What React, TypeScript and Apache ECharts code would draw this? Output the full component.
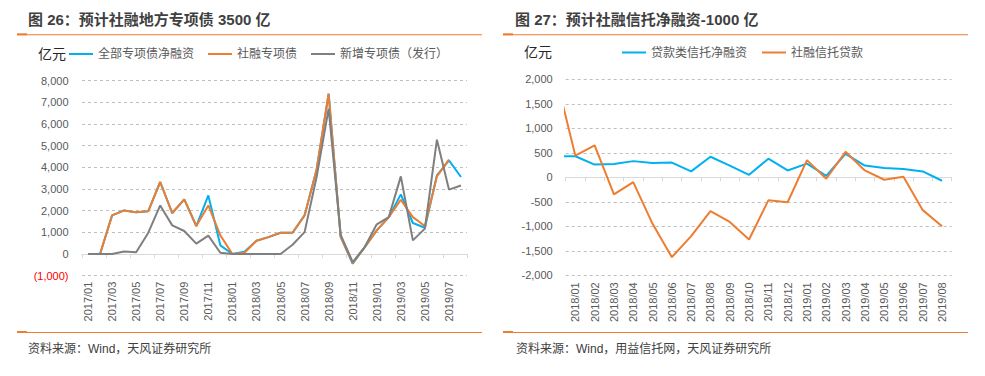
import React, { useEffect, useRef } from "react";
import * as echarts from "echarts";

// ---------- Left chart: 图 26 ----------
const leftMonths = [
  "2017/01", "2017/02", "2017/03", "2017/04", "2017/05", "2017/06", "2017/07", "2017/08",
  "2017/09", "2017/10", "2017/11", "2017/12", "2018/01", "2018/02", "2018/03", "2018/04",
  "2018/05", "2018/06", "2018/07", "2018/08", "2018/09", "2018/10", "2018/11", "2018/12",
  "2019/01", "2019/02", "2019/03", "2019/04", "2019/05", "2019/06", "2019/07", "2019/08",
];
const leftNetFinancing = [
  0, 0, 1780, 2010, 1920, 1970, 3320, 1890, 2520, 1290, 2700, 400, 0, 100, 610, 780,
  980, 980, 1780, 3900, 7390, 790, -450, 320, 1090, 1700, 2750, 1430, 1210, 3630, 4320, 3550,
];
const leftTsfSpecial = [
  0, 0, 1780, 2010, 1920, 1970, 3320, 1890, 2520, 1290, 2240, 860, 0, 60, 610, 780,
  980, 980, 1780, 3900, 7390, 790, -420, 320, 1090, 1700, 2500, 1700, 1290, 3580, 4350, null,
];
const leftNewIssuance = [
  0, 0, 0, 120, 80, 970, 2240, 1320, 1060, 480, 850, 60, 0, 0, 0, 0,
  0, 430, 1010, 3550, 6700, 880, -370, 320, 1370, 1700, 3580, 630, 1170, 5270, 2970, 3160,
];
const leftNames = ["全部专项债净融资", "社融专项债", "新增专项债（发行）"];

// ---------- Right chart: 图 27 ----------
// first category (2017/12) lies left of the visible axis range; its segment is clipped
const rightMonths = [
  "2017/12", "2018/01", "2018/02", "2018/03", "2018/04", "2018/05", "2018/06", "2018/07",
  "2018/08", "2018/09", "2018/10", "2018/11", "2018/12", "2019/01", "2019/02", "2019/03",
  "2019/04", "2019/05", "2019/06", "2019/07", "2019/08",
];
const rightTrustNet = [
  430, 430, 260, 270, 330, 290, 300, 120, 420, 240, 50, 380, 140, 280, 30, 480,
  240, 190, 170, 120, -70,
];
const rightTsfTrust = [
  2050, 440, 650, -350, -100, -950, -1630, -1200, -690, -910, -1270, -470, -510, 350, -30, 520,
  140, -50, 10, -670, -1000,
];
const rightNames = ["贷款类信托净融资", "社融信托贷款"];

const BLUE = "#00B0F0";
const ORANGE = "#ED7D31";
const GRAY = "#7F7F7F";
const LABEL = "#595959";
const FONT = "'Liberation Sans', 'Noto Sans CJK SC', sans-serif";

function thousands(v: number): string {
  return Math.abs(v).toString().replace(/\B(?=(\d{3})+(?!\d))/g, ",");
}

export default function App() {
  const ref = useRef<HTMLDivElement>(null);

  useEffect(() => {
    if (!ref.current) return;
    const chart = echarts.init(ref.current, undefined, { renderer: "svg" });

    const splitLine = { show: true, lineStyle: { type: [3, 3], color: "#BFBFBF", width: 1 } };
    const zeroAxisLine = { show: true, onZero: true, lineStyle: { color: "#D9D9D9", width: 1 } };

    const lineSeries = (name: string, data: (number | null)[], color: string, xi: number, yi: number) => ({
      name,
      type: "line",
      xAxisIndex: xi,
      yAxisIndex: yi,
      data,
      symbol: "none",
      color,
      lineStyle: { color, width: 2 },
      connectNulls: false,
      clip: true,
    });

    const option: any = {
      animation: false,
      backgroundColor: "#ffffff",
      textStyle: { fontFamily: FONT },
      grid: [
        { left: 82, top: 80.5, width: 385, height: 195.2 },
        { left: 565.7, top: 79.3, width: 386, height: 196 },
      ],
      xAxis: [
        {
          gridIndex: 0, type: "category", data: leftMonths, boundaryGap: true, position: "bottom",
          axisLine: zeroAxisLine,
          axisTick: { show: true, interval: 1, length: 4, lineStyle: { color: "#D9D9D9" } },
          axisLabel: { show: false }, splitLine: { show: false },
        },
        {
          gridIndex: 0, type: "category", data: leftMonths, boundaryGap: true, position: "bottom",
          axisLine: { show: false, onZero: false }, axisTick: { show: false },
          axisLabel: { interval: 1, rotate: 90, margin: 6, fontSize: 11, color: LABEL, fontFamily: FONT },
          splitLine: { show: false },
        },
        {
          gridIndex: 1, type: "category", data: rightMonths, boundaryGap: true, position: "bottom", min: 1,
          axisLine: zeroAxisLine,
          axisTick: { show: true, interval: 0, length: 4, lineStyle: { color: "#D9D9D9" } },
          axisLabel: { show: false }, splitLine: { show: false },
        },
        {
          gridIndex: 1, type: "category", data: rightMonths, boundaryGap: true, position: "bottom", min: 1,
          axisLine: { show: false, onZero: false }, axisTick: { show: false },
          axisLabel: { interval: 0, rotate: 90, margin: 7, fontSize: 11, color: LABEL, fontFamily: FONT },
          splitLine: { show: false },
        },
      ],
      yAxis: [
        {
          gridIndex: 0, type: "value", min: -1000, max: 8000, interval: 1000,
          axisLine: { show: false }, axisTick: { show: false }, splitLine,
          axisLabel: {
            margin: 13.5, fontSize: 11, color: LABEL, fontFamily: FONT,
            formatter: (v: number) => (v < 0 ? `{neg|(${thousands(v)})}` : thousands(v)),
            rich: { neg: { color: "#FF0000", fontSize: 11, fontFamily: FONT } },
          },
        },
        {
          gridIndex: 1, type: "value", min: -2000, max: 2000, interval: 500,
          axisLine: { show: false }, axisTick: { show: false }, splitLine,
          axisLabel: {
            margin: 13, fontSize: 11, color: LABEL, fontFamily: FONT,
            formatter: (v: number) => (v < 0 ? "-" : "") + thousands(v),
          },
        },
      ],
      legend: [
        {
          data: leftNames, left: 69, top: 48, padding: 0, icon: "rect", itemWidth: 24, itemHeight: 2,
          itemGap: 14, textStyle: { fontSize: 12, color: LABEL, fontFamily: FONT },
        },
        {
          data: rightNames, left: 622, top: 46.5, padding: 0, icon: "rect", itemWidth: 24, itemHeight: 2,
          itemGap: 15, textStyle: { fontSize: 12, color: LABEL, fontFamily: FONT },
        },
      ],
      series: [
        lineSeries(leftNames[0], leftNetFinancing, BLUE, 0, 0),
        lineSeries(leftNames[1], leftTsfSpecial, ORANGE, 0, 0),
        lineSeries(leftNames[2], leftNewIssuance, GRAY, 0, 0),
        lineSeries(rightNames[0], rightTrustNet, BLUE, 2, 1),
        lineSeries(rightNames[1], rightTsfTrust, ORANGE, 2, 1),
      ],
      graphic: [
        // titles
        { type: "text", left: 28, top: 12, style: { text: "图 26：预计社融地方专项债 3500 亿", font: `bold 15px ${FONT}`, fill: "#3F3F3F" } },
        { type: "text", left: 515, top: 12, style: { text: "图 27：预计社融信托净融资-1000 亿", font: `bold 15px ${FONT}`, fill: "#3F3F3F" } },
        // orange rules
        { type: "rect", shape: { x: 17, y: 34.3, width: 465, height: 1 }, style: { fill: ORANGE } },
        { type: "rect", shape: { x: 17, y: 33.3, width: 10, height: 2 }, style: { fill: ORANGE } },
        { type: "rect", shape: { x: 503, y: 34.3, width: 465, height: 1 }, style: { fill: ORANGE } },
        { type: "rect", shape: { x: 503, y: 33.3, width: 10, height: 2 }, style: { fill: ORANGE } },
        { type: "rect", shape: { x: 17, y: 332, width: 465, height: 1 }, style: { fill: ORANGE } },
        { type: "rect", shape: { x: 17, y: 331, width: 10, height: 2 }, style: { fill: ORANGE } },
        { type: "rect", shape: { x: 503, y: 332, width: 465, height: 1 }, style: { fill: ORANGE } },
        { type: "rect", shape: { x: 503, y: 331, width: 10, height: 2 }, style: { fill: ORANGE } },
        // unit labels
        { type: "text", left: 38, top: 47, style: { text: "亿元", font: `14px ${FONT}`, fill: "#262626" } },
        { type: "text", left: 524, top: 45, style: { text: "亿元", font: `14px ${FONT}`, fill: "#262626" } },
        // sources
        { type: "text", left: 28, top: 343, style: { text: "资料来源：Wind，天风证券研究所", font: `12px ${FONT}`, fill: "#404040" } },
        { type: "text", left: 516, top: 343, style: { text: "资料来源：Wind，用益信托网，天风证券研究所", font: `12px ${FONT}`, fill: "#404040" } },
      ],
    };

    chart.setOption(option);
    return () => chart.dispose();
  }, []);

  return (
    <div
      ref={ref}
      style={{ position: "absolute", left: 0, top: 0, width: 985, height: 376, background: "#fff" }}
    />
  );
}
